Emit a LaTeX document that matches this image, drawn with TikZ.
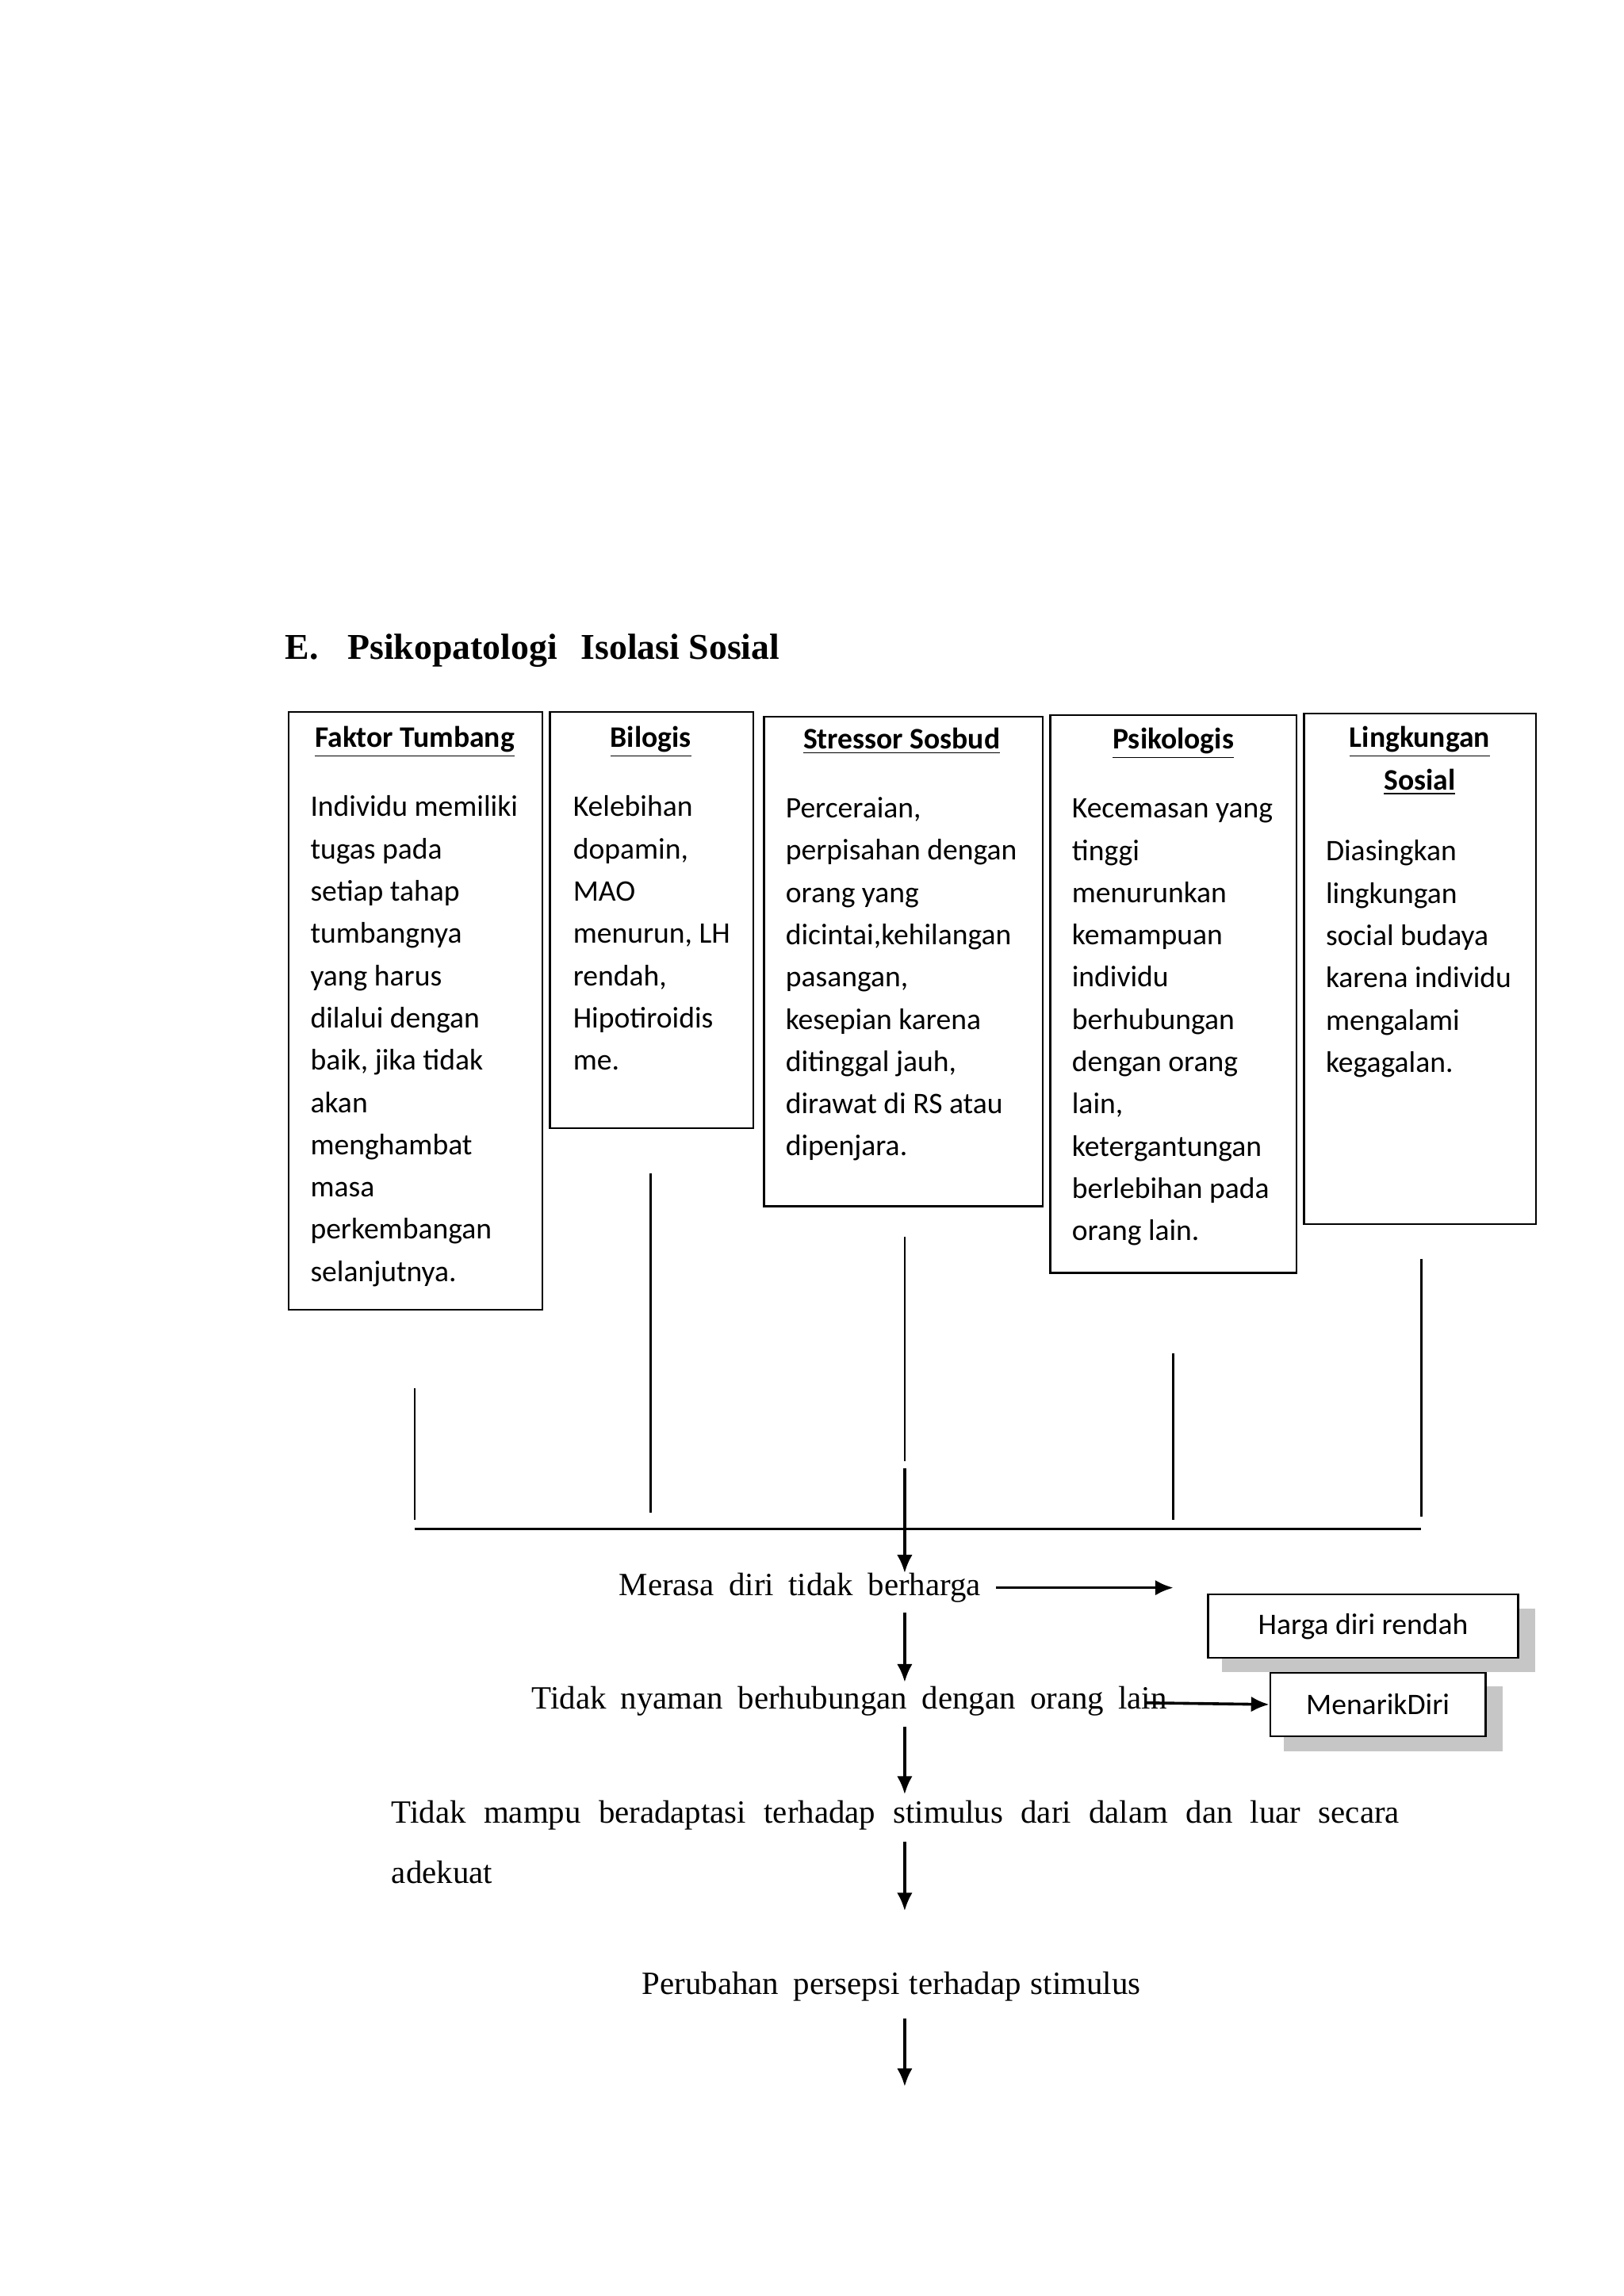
\documentclass[tikz,border=0pt]{standalone}
\usepackage{fontspec}
\setmainfont{Liberation Serif}
\newfontfamily\carl{Carlito}
\usetikzlibrary{arrows.meta}
\begin{document}
\begin{tikzpicture}[x=0.02cm,y=-0.02cm,
  box/.style={draw,line width=0.7pt,inner sep=0,anchor=north west},
  hd/.style={font=\carl\bfseries\fontsize{11.5}{16.3}\selectfont,inner sep=0,align=center,anchor=north},
  bt/.style={font=\carl\fontsize{11.5}{16.3}\selectfont,inner sep=0,align=left,anchor=north west},
  st/.style={font=\fontsize{12.5}{15}\selectfont,inner sep=0},
  arr/.style={line width=1.1pt,-{Latex[length=7pt,width=6pt]}},
  sbox/.style={draw,line width=0.7pt,fill=white,font=\carl\fontsize{11.5}{14}\selectfont,inner sep=0}]
\useasboundingbox (0,0) rectangle (1100,1556);
\node[font=\bfseries\fontsize{14}{16}\selectfont,anchor=west,inner sep=0] (title) at (193,441) {E.\hspace{0.8em}Psikopatologi\hspace{0.4em} Isolasi Sosial};
% boxes
\node[box,minimum width=3.44cm,minimum height=8.1cm] (b1) at (195,482) {};
\node[box,minimum width=2.76cm,minimum height=5.64cm] (b2) at (372,482) {};
\node[box,minimum width=3.78cm,minimum height=6.64cm] (b3) at (517,485) {};
\node[box,minimum width=3.34cm,minimum height=7.56cm] (b4) at (711,484) {};
\node[box,minimum width=3.14cm,minimum height=6.92cm] (b5) at (883,483) {};
\node[hd] (h1) at (281,492) {\underline{Faktor Tumbang}};
\node[hd] (h2) at (441,492) {\underline{Bilogis}};
\node[hd] (h3) at (611,493) {\underline{Stressor Sosbud}};
\node[hd] (h4) at (795,493) {\underline{Psikologis}};
\node[hd] (h5) at (962,492) {\underline{Lingkungan}\\\underline{Sosial}};
\node[bt] (t1) at (210,539) {Individu memiliki\\tugas pada\\setiap tahap\\tumbangnya\\yang harus\\dilalui dengan\\baik, jika tidak\\akan\\menghambat\\masa\\perkembangan\\selanjutnya.};
\node[bt] (t2) at (388,539) {Kelebihan\\dopamin,\\MAO\\menurun, LH\\rendah,\\Hipotiroidis\\me.};
\node[bt] (t3) at (532,540) {Perceraian,\\perpisahan dengan\\orang yang\\dicintai,kehilangan\\pasangan,\\kesepian karena\\ditinggal jauh,\\dirawat di RS atau\\dipenjara.};
\node[bt] (t4) at (726,541) {Kecemasan yang\\tinggi\\menurunkan\\kemampuan\\individu\\berhubungan\\dengan orang\\lain,\\ketergantungan\\berlebihan pada\\orang lain.};
\node[bt] (t5) at (898,569) {Diasingkan\\lingkungan\\social budaya\\karena individu\\mengalami\\kegagalan.};
% lines
\coordinate (v1a) at (281,941); \coordinate (v1b) at (281,1030);
\coordinate (v2a) at (441,795); \coordinate (v2b) at (441,1025);
\coordinate (v3a) at (613,838); \coordinate (v3b) at (613,990);
\coordinate (v4a) at (795,917); \coordinate (v4b) at (795,1030);
\coordinate (v5a) at (963,853); \coordinate (v5b) at (963,1028);
\coordinate (hl) at (281,1036); \coordinate (hr) at (963,1036);
\draw[line width=0.8pt] (v1a)--(v1b) (v2a)--(v2b) (v3a)--(v3b) (v4a)--(v4b) (v5a)--(v5b) (hl)--(hr);
% flow
\coordinate (a0) at (613,995);
\node[st] (m1) at (542,1076) {Merasa\hspace{0.45em}diri\hspace{0.45em}tidak\hspace{0.45em}berharga};
\draw[arr] (a0) -- (613,1066);
\fill[gray!45] (828,1090) rectangle (1040,1133);
\node[sbox,minimum width=4.2cm,minimum height=0.86cm,anchor=north west] (hdr) at (818,1080) {Harga diri rendah};
\coordinate (m1e) at (675,1076);
\draw[arr] (m1e) -- (795,1076);
\node[st,anchor=west] (m2) at (360,1153) {Tidak\hspace{0.45em}nyaman\hspace{0.45em}berhubungan\hspace{0.45em}dengan\hspace{0.45em}orang\hspace{0.45em}lain};
\draw[arr] (613,1093) -- (613,1140);
\fill[gray!45] (870,1143) rectangle (1018,1187);
\node[sbox,minimum width=2.92cm,minimum height=0.86cm,anchor=north west] (md) at (860,1133) {MenarikDiri};
\coordinate (m2e) at (777,1154);
\draw[arr] (m2e) -- (md.west);
\draw[arr] (613,1170) -- (613,1216);
\node[st,anchor=west] (m3) at (265,1230) {\makebox[13.66cm][s]{Tidak mampu beradaptasi terhadap stimulus dari dalam dan luar secara}};
\node[st,anchor=west] (m3b) at (265,1269) {adekuat};
\draw[arr] (613,1248) -- (613,1295);
\node[st] (m4) at (604,1346) {Perubahan\hspace{0.45em}persepsi\hspace{0.3em}terhadap\hspace{0.3em}stimulus};
\draw[arr] (613,1368) -- (613,1414);
\end{tikzpicture}
\end{document}
